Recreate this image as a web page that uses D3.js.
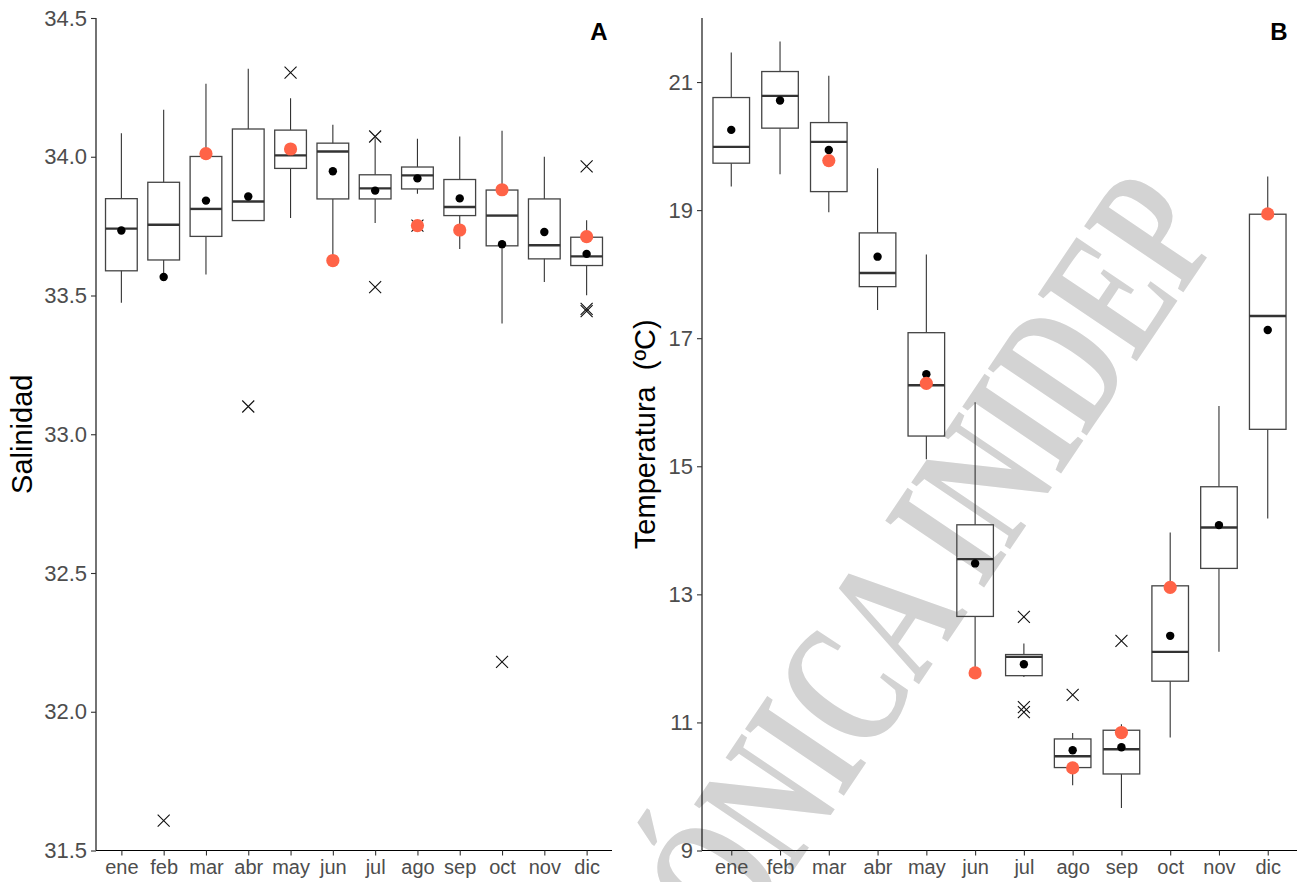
<!DOCTYPE html>
<html>
<head>
<meta charset="utf-8">
<script src="https://cdn.jsdelivr.net/npm/d3@7"></script>
<style>
  html, body { margin: 0; padding: 0; background: #fff; }
  svg { display: block; }
</style>
</head>
<body>
<svg id="chart" width="1298" height="882"></svg>
<script>
// Month labels shared by both panels
const months = ["ene","feb","mar","abr","may","jun","jul","ago","sep","oct","nov","dic"];

// Panel A: salinity box statistics per month
const salLow  = [33.474, 33.551, 33.576, 33.770, 33.779, 33.641, 33.761, 33.867, 33.668, 33.399, 33.549, 33.501];
const salQ1   = [33.589, 33.628, 33.713, 33.770, 33.958, 33.848, 33.848, 33.884, 33.788, 33.679, 33.632, 33.608];
const salMed  = [33.741, 33.755, 33.812, 33.839, 34.005, 34.019, 33.886, 33.933, 33.819, 33.788, 33.681, 33.641];
const salQ3   = [33.849, 33.908, 34.001, 34.100, 34.096, 34.049, 33.935, 33.963, 33.918, 33.880, 33.848, 33.710];
const salHigh = [34.085, 34.169, 34.263, 34.317, 34.211, 34.115, 34.067, 34.065, 34.073, 34.094, 34.000, 33.771];
const salMean = [33.734, 33.567, 33.842, 33.857, 34.020, 33.948, 33.878, 33.922, 33.850, 33.685, 33.729, 33.650];
const salYear = [null, null, 34.011, null, 34.028, 33.626, null, 33.752, 33.736, 33.881, null, 33.712];
const salOutMonth = ["feb","abr","may","jul","jul","ago","oct","dic","dic","dic"];
const salOutValue = [31.608, 33.100, 34.303, 34.073, 33.530, 33.752, 32.180, 33.965, 33.444, 33.452];
const salTicks = [31.5, 32.0, 32.5, 33.0, 33.5, 34.0, 34.5];

// Panel B: temperature box statistics per month
const tLow  = [19.367, 19.561, 18.967, 17.440, 15.108, 11.790, 11.710, 10.019, 9.664, 10.764, 12.102, 14.186];
const tQ1   = [19.733, 20.280, 19.289, 17.805, 15.472, 12.655, 11.730, 10.295, 10.195, 11.644, 13.405, 15.577];
const tMed  = [19.987, 20.784, 20.066, 18.019, 16.264, 13.550, 12.023, 10.472, 10.581, 12.102, 14.045, 17.347];
const tQ3   = [20.758, 21.164, 20.367, 18.644, 17.086, 14.086, 12.060, 10.742, 10.878, 13.133, 14.680, 18.936];
const tHigh = [21.460, 21.633, 21.100, 19.655, 18.305, 16.000, 12.233, 10.836, 10.972, 13.967, 15.941, 19.523];
const tMean = [20.253, 20.711, 19.940, 18.273, 16.436, 13.483, 11.909, 10.566, 10.613, 12.352, 14.081, 17.128];
const tYear = [null, null, 19.774, null, 16.295, 11.773, null, 10.289, 10.842, 13.108, null, 18.941];
const tOutMonth = ["jul","jul","jul","ago","sep"];
const tOutValue = [12.648, 11.240, 11.160, 11.430, 12.273];
const tTicks = [9, 11, 13, 15, 17, 19, 21];

const svg = d3.select("#chart");
const TOP = 18, BOTTOM = 850.5;

// Background watermark (condensed serif, rotated)
svg.append("text")
  .attr("transform", "translate(1224,232) rotate(-56) scale(0.68,1)")
  .attr("text-anchor", "end")
  .attr("font-family", "'Liberation Serif', 'DejaVu Serif', serif")
  .attr("font-weight", "bold")
  .attr("font-size", 182)
  .attr("fill", "#d3d3d3")
  .text("ÓNICA INIDEP");

function panel(cfg) {
  const x = d3.scalePoint().domain(months).range([cfg.x0, cfg.x1]).padding(0.6);
  const y = d3.scaleLinear().domain(cfg.domain).range([BOTTOM, TOP]);
  const bw = x.step() * 0.75;
  const g = svg.append("g");

  const rows = months.map((m, i) => ({
    m, low: cfg.low[i], q1: cfg.q1[i], med: cfg.med[i], q3: cfg.q3[i],
    high: cfg.high[i], mean: cfg.mean[i], year: cfg.year[i]
  }));

  const box = g.selectAll(".box").data(rows).join("g").attr("class", "box");
  // whiskers
  box.append("line")
    .attr("x1", d => x(d.m)).attr("x2", d => x(d.m))
    .attr("y1", d => y(d.q3)).attr("y2", d => y(d.high))
    .attr("stroke", "#333").attr("stroke-width", 1.1);
  box.append("line")
    .attr("x1", d => x(d.m)).attr("x2", d => x(d.m))
    .attr("y1", d => y(d.q1)).attr("y2", d => y(d.low))
    .attr("stroke", "#333").attr("stroke-width", 1.1);
  // box body
  box.append("rect")
    .attr("x", d => x(d.m) - bw / 2).attr("width", bw)
    .attr("y", d => y(d.q3)).attr("height", d => y(d.q1) - y(d.q3))
    .attr("fill", "none").attr("stroke", "#444").attr("stroke-width", 1.3);
  // median
  box.append("line")
    .attr("x1", d => x(d.m) - bw / 2).attr("x2", d => x(d.m) + bw / 2)
    .attr("y1", d => y(d.med)).attr("y2", d => y(d.med))
    .attr("stroke", "#333").attr("stroke-width", 2.4);

  // outliers drawn as crosses
  const outs = cfg.outMonth.map((m, i) => ({ m, v: cfg.outValue[i] }));
  g.selectAll(".out").data(outs).join("path")
    .attr("class", "out")
    .attr("d", d => {
      const cx = x(d.m), cy = y(d.v), s = 6;
      return `M${cx - s},${cy - s}L${cx + s},${cy + s}M${cx - s},${cy + s}L${cx + s},${cy - s}`;
    })
    .attr("stroke", "#111").attr("stroke-width", 1.1).attr("fill", "none");

  // monthly mean
  g.selectAll(".mean").data(rows).join("circle")
    .attr("class", "mean")
    .attr("cx", d => x(d.m)).attr("cy", d => y(d.mean)).attr("r", 4.2)
    .attr("fill", "#000");

  // single-year values
  g.selectAll(".year").data(rows.filter(d => d.year != null)).join("circle")
    .attr("class", "year")
    .attr("cx", d => x(d.m)).attr("cy", d => y(d.year)).attr("r", 6.6)
    .attr("fill", "#FF6347");

  // axes
  const ax = g.append("g").attr("transform", `translate(${cfg.x0},0)`)
    .call(d3.axisLeft(y).tickValues(cfg.ticks).tickFormat(cfg.fmt).tickSize(5).tickPadding(4));
  const bx = g.append("g").attr("transform", `translate(0,${BOTTOM})`)
    .call(d3.axisBottom(x).tickSize(5).tickPadding(4));
  [ax, bx].forEach(a => {
    a.select(".domain").attr("stroke", "#000").attr("stroke-width", 1.1);
    a.selectAll(".tick line").attr("stroke", "#333").attr("stroke-width", 1.1);
    a.selectAll(".tick text")
      .attr("fill", "#4d4d4d")
      .attr("font-family", "'Liberation Sans', Arial, sans-serif");
  });
  ax.selectAll(".tick text").attr("font-size", 22);
  bx.selectAll(".tick text").attr("font-size", 20);
  ax.select(".domain").attr("d", `M0,${BOTTOM}V${TOP}`);
  bx.select(".domain").attr("d", `M${cfg.x0},0H${cfg.x1}`);

  // axis title
  g.append("text")
    .attr("transform", `translate(${cfg.titleX},${(TOP + BOTTOM) / 2}) rotate(-90)`)
    .attr("text-anchor", "middle")
    .attr("font-family", "'Liberation Sans', Arial, sans-serif")
    .attr("font-size", 29)
    .attr("fill", "#000")
    .style("white-space", "pre")
    .text(cfg.title);

  // panel tag
  g.append("text")
    .attr("x", cfg.tagX).attr("y", 40)
    .attr("text-anchor", "middle")
    .attr("font-family", "'Liberation Sans', Arial, sans-serif")
    .attr("font-weight", "bold")
    .attr("font-size", 24)
    .attr("fill", "#000")
    .text(cfg.tag);
}

panel({
  x0: 96, x1: 612, domain: [31.5, 34.5], ticks: salTicks, fmt: d3.format(".1f"),
  low: salLow, q1: salQ1, med: salMed, q3: salQ3, high: salHigh, mean: salMean, year: salYear,
  outMonth: salOutMonth, outValue: salOutValue,
  title: "Salinidad", titleX: 32, tag: "A", tagX: 599
});

panel({
  x0: 702, x1: 1297, domain: [9, 22], ticks: tTicks, fmt: d3.format("d"),
  low: tLow, q1: tQ1, med: tMed, q3: tQ3, high: tHigh, mean: tMean, year: tYear,
  outMonth: tOutMonth, outValue: tOutValue,
  title: "Temperatura  (ºC)", titleX: 655, tag: "B", tagX: 1279
});
</script>
</body>
</html>
